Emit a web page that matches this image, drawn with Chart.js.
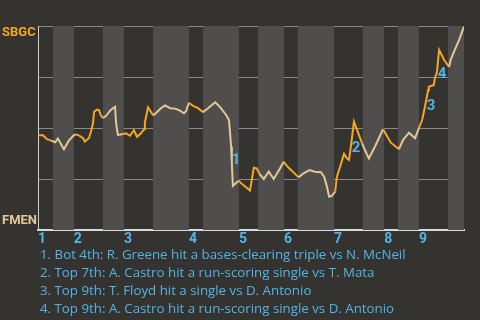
<!DOCTYPE html>
<html>
<head>
<meta charset="utf-8">
<script src="https://cdn.jsdelivr.net/npm/chart.js@4/dist/chart.umd.min.js"></script>
<style>
  html, body { margin: 0; padding: 0; background: #353330; }
  #wrap { position: relative; width: 480px; height: 320px; overflow: hidden; }
  canvas { position: absolute; left: 0; top: 0; }
  #notes { position: absolute; left: 40px; top: 245px; margin: 0; padding: 0; list-style: none;
           font-family: "Open Sans", sans-serif; font-size: 13.3px; line-height: 18px; color: #50B4E6; white-space: nowrap; }
</style>
</head>
<body>
<div id="wrap">
  <canvas id="c" width="480" height="320"></canvas>
  <ul id="notes"></ul>
</div>
<script>
// Game progress (0-120) and SBGC win probability (%)
const progress = [0,1.4,2.5,3.7,4.8,5.6,7.3,8.5,9.3,10.4,11.5,12.7,13.2,14.4,14.9,15.5,15.8,16.6,17.2,17.7,18.3,19.2,20.3,21.1,21.7,22.0,22.5,23.7,24.8,25.9,27.0,27.9,29.0,29.9,30.1,31.0,31.5,32.4,33.2,34.6,35.8,37.2,38.6,40.0,41.1,41.7,42.5,43.7,45.1,46.5,47.9,49.0,49.9,50.7,51.5,53.0,53.8,54.1,54.4,54.6,54.9,56.5,57.5,59.2,59.7,60.8,61.6,62.3,63.6,65.0,66.4,68.2,69.2,70.3,71.8,73.4,74.8,76.5,78.0,79.7,80.6,81.4,82.0,82.8,83.7,84.2,85.1,86.2,87.0,87.6,88.2,89.0,89.9,91.3,92.1,93.2,94.9,97.2,99.4,101.7,102.8,104.5,106.2,107.3,108.2,109.0,109.9,110.1,111.5,111.8,112.4,112.7,113.0,114.4,115.8,116.3,117.2,118.6,120];
const winProb = [46.4,46.4,44.5,43.8,43.0,44.8,39.6,43.3,45.0,46.9,46.4,45.0,43.3,45.2,48.2,52.3,58.0,59.0,58.8,56.2,54.9,56.0,58.5,59.7,60.4,52.3,46.6,46.9,47.4,46.2,48.9,45.7,47.4,49.4,52.6,60.1,58.8,56.2,57.2,59.7,61.1,59.7,59.5,58.5,57.2,58.2,62.4,60.8,59.7,57.8,59.7,61.3,62.6,61.3,59.7,56.4,53.9,47.4,40.8,32.7,21.7,24.2,22.5,20.1,19.3,30.5,30.2,27.8,25.0,28.6,25.0,30.3,33.5,31.0,28.6,25.8,27.8,29.4,28.6,28.3,26.1,21.2,16.3,16.7,18.8,26.1,31.0,37.3,35.1,34.3,41.7,53.1,49.0,42.5,39.2,35.1,40.8,49.4,42.8,39.6,44.1,47.7,45.0,49.9,53.9,60.4,68.6,70.2,71.1,74.4,77.6,83.3,88.2,83.3,80.0,83.7,87.4,93.1,99.7];
// Half-inning boundaries (progress units): top1, bot1, top2, ...
const halfInningStarts = [0,4.2,10.1,18.3,24.2,32.4,42.5,46.5,56.6,62.0,69.3,73.2,83.4,91.5,97.5,101.4,107.3,115.5,120];
const inningLabels = ["1","2","3","4","5","6","7","8","9"];
const teamTop = "SBGC";
const teamBottom = "FMEN";
const eventLabels = ["1","2","3","4"];
const eventX = [55.8, 89.6, 110.7, 113.8];
const eventY = [34.3, 40.2, 60.8, 76.5];
const eventNotes = [
  "1. Bot 4th: R. Greene hit a bases-clearing triple vs N. McNeil",
  "2. Top 7th: A. Castro hit a run-scoring single vs T. Mata",
  "3. Top 9th: T. Floyd hit a single vs D. Antonio",
  "4. Top 9th: A. Castro hit a run-scoring single vs D. Antonio"
];

const ORANGE = "#F5A623", BEIGE = "#E2C896", BLUE = "#50B4E6";
const BOLDFONT = 'Roboto, "Open Sans", sans-serif';

const notes = document.getElementById("notes");
eventNotes.forEach(t => { const li = document.createElement("li"); li.textContent = t; notes.appendChild(li); });

function halfIndex(x) {
  for (let i = 0; i < halfInningStarts.length - 1; i++) {
    if (x >= halfInningStarts[i] && x < halfInningStarts[i + 1]) return i;
  }
  return halfInningStarts.length - 2;
}

const bandsPlugin = {
  id: "bands",
  beforeDatasetsDraw(chart) {
    const { ctx, chartArea: a, scales: { x } } = chart;
    ctx.save();
    for (let i = 0; i < halfInningStarts.length - 1; i++) {
      if (i % 2 === 1) {
        const x0 = x.getPixelForValue(halfInningStarts[i]);
        const x1 = x.getPixelForValue(halfInningStarts[i + 1]);
        ctx.fillStyle = "#4F4E4C";
        ctx.fillRect(x0, a.top, x1 - x0, a.bottom - a.top);
      }
    }
    ctx.restore();
  }
};

const labelsPlugin = {
  id: "labels",
  afterDatasetsDraw(chart) {
    const { ctx, chartArea: a, scales: { x, y } } = chart;
    ctx.save();
    ctx.textBaseline = "middle";
    ctx.font = "bold 13px " + BOLDFONT;
    ctx.textAlign = "left";
    ctx.fillStyle = ORANGE;
    ctx.fillText(teamTop, 2, a.top + 7);
    ctx.fillStyle = BEIGE;
    ctx.fillText(teamBottom, 2, a.bottom - 9);
    ctx.textAlign = "center";
    ctx.fillStyle = BLUE;
    ctx.font = "bold 15px " + BOLDFONT;
    eventLabels.forEach((t, i) => ctx.fillText(t, x.getPixelForValue(eventX[i]), y.getPixelForValue(eventY[i])));
    ctx.restore();
  }
};

new Chart(document.getElementById("c"), {
  type: "line",
  data: {
    datasets: [{
      data: progress.map((p, i) => ({ x: p, y: winProb[i] })),
      borderWidth: 2,
      borderColor: ORANGE,
      pointRadius: 0,
      tension: 0,
      segment: {
        borderColor: c => (halfIndex((c.p0.parsed.x + c.p1.parsed.x) / 2) % 2 === 0 ? ORANGE : BEIGE)
      }
    }]
  },
  options: {
    responsive: false,
    animation: false,
    layout: { padding: { left: 38, top: 26, right: 16, bottom: 70 } },
    plugins: { legend: { display: false }, tooltip: { enabled: false } },
    scales: {
      x: {
        type: "linear", min: 0, max: 120,
        afterFit: s => { s.height = 20; },
        afterBuildTicks: s => { s.ticks = inningLabels.map((l, i) => ({ value: halfInningStarts[i * 2] })); },
        grid: { display: false, drawTicks: false, tickLength: 0 },
        border: { display: true, color: "#D8D8D8", width: 2 },
        ticks: {
          autoSkip: false, maxRotation: 0, align: "start", padding: 1,
          color: BLUE, font: { family: BOLDFONT, size: 14, weight: "bold" },
          callback: (v, i) => inningLabels[i]
        }
      },
      y: {
        min: 0, max: 100,
        afterFit: s => { s.width = 0; },
        ticks: { display: false, stepSize: 25 },
        grid: { color: "#8A8986", lineWidth: 1, drawTicks: false },
        border: { display: true, color: "#CFCFCF", width: 1 }
      }
    }
  },
  plugins: [bandsPlugin, labelsPlugin]
});
</script>
</body>
</html>
